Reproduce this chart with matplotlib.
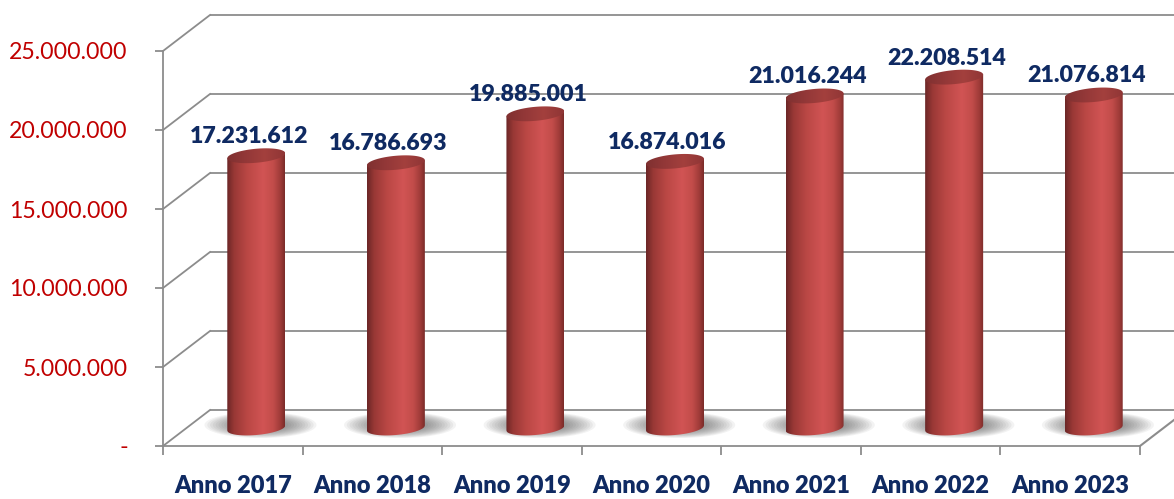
import numpy as np
import matplotlib
matplotlib.use("Agg")
import matplotlib.pyplot as plt
from matplotlib.patches import Polygon
from matplotlib.transforms import offset_copy, IdentityTransform

# ---- data ----
categories = ["Anno 2017", "Anno 2018", "Anno 2019", "Anno 2020",
              "Anno 2021", "Anno 2022", "Anno 2023"]
values = [17231612, 16786693, 19885001, 16874016, 21016244, 22208514, 21076814]
y_ticks = [0, 5000000, 10000000, 15000000, 20000000, 25000000]
y_tick_labels = ["-", "5.000.000", "10.000.000", "15.000.000", "20.000.000", "25.000.000"]

plt.rcParams["font.family"] = ["Lato", "DejaVu Sans"]

W, H = 1174, 499
fig = plt.figure(figsize=(W / 100, H / 100), dpi=100)
ax = fig.add_axes([163 / W, 53 / H, 977 / W, 395 / H])
XLIM = (0, len(categories))
YLIM = (0, 25000000)
ax.set_xlim(*XLIM)
ax.set_ylim(*YLIM)
ax.set_autoscale_on(False)

GRID = "#8c8c8c"
NAVY = "#0f2a62"
RED = "#c00000"

# depth offsets (pixels)
DX, DY = 47, 36
back = offset_copy(ax.transData, fig=fig, x=DX, y=DY, units="dots")
mid = offset_copy(ax.transData, fig=fig, x=DX / 2, y=DY / 2, units="dots")

px_x = 977 / len(categories)          # pixels per category
px_y = 395 / 25000000                 # pixels per unit value

# ---- walls / gridlines ----
for v in y_ticks:
    ax.plot([0, len(categories)], [v, v], transform=back, color=GRID, lw=1.3,
            clip_on=False, zorder=1, solid_capstyle="butt")
    pf = ax.transData.transform((0, v))
    pb = back.transform((0, v))
    ax.plot([pf[0], pb[0]], [pf[1], pb[1]], transform=IdentityTransform(),
            color=GRID, lw=1.3, clip_on=False, zorder=1)
pf = ax.transData.transform((len(categories), 0))
pb = back.transform((len(categories), 0))
ax.plot([pf[0], pb[0]], [pf[1], pb[1]], transform=IdentityTransform(),
        color=GRID, lw=1.5, clip_on=False, zorder=1)

# ---- cylinders ----
r = 29 / px_x            # half width in data units
ry = 7 / px_y            # half height of ellipse in data units
tilt = 2.5 / px_y        # slight tilt of ellipses

def make_grad(stops, rr, gg, bb, n=256):
    u = np.linspace(-1, 1, n)
    img = np.stack([np.interp(u, stops, rr), np.interp(u, stops, gg),
                    np.interp(u, stops, bb)], axis=-1)
    return img[np.newaxis, :, :]

body_img = make_grad([-1.0, -0.75, -0.3, 0.25, 0.6, 0.85, 1.0],
                     [0.42, 0.60, 0.73, 0.82, 0.76, 0.62, 0.48],
                     [0.15, 0.22, 0.28, 0.33, 0.30, 0.23, 0.17],
                     [0.15, 0.21, 0.27, 0.33, 0.29, 0.22, 0.16])
top_img = make_grad([-1.0, -0.3, 0.3, 1.0],
                    [0.50, 0.58, 0.64, 0.56],
                    [0.19, 0.22, 0.25, 0.21],
                    [0.19, 0.22, 0.24, 0.21])

t = np.linspace(0, 2 * np.pi, 160)
for i, v in enumerate(values):
    c = i + 0.5
    # shadow on floor
    for s in np.linspace(1.0, 0.45, 12):
        sx = c + 0.03 + s * (56 / px_x) * np.cos(t)
        sy = 3 / px_y + s * (13 / px_y) * np.sin(t)
        ax.add_patch(Polygon(np.column_stack([sx, sy]), closed=True,
                             facecolor=(0.3, 0.3, 0.3), edgecolor="none",
                             alpha=0.065, transform=mid, zorder=2, clip_on=False))
    # body outline: bottom half-ellipse + straight sides up to top centre line
    u = np.linspace(-1, 1, 120)
    bx = c + u * r
    by = -ry * np.sqrt(np.clip(1 - u ** 2, 0, None)) + tilt * u
    outline = np.vstack([np.column_stack([bx, by]),
                         [[c + r, v + tilt], [c - r, v - tilt]]])
    body_clip = Polygon(outline, closed=True, transform=mid, facecolor="none",
                        edgecolor="none")
    ax.add_patch(body_clip)
    im = ax.imshow(body_img, extent=(c - r, c + r, -ry - tilt, v + tilt),
                   aspect="auto", interpolation="bilinear", transform=mid,
                   zorder=3, origin="lower")
    im.set_clip_path(body_clip)
    # top ellipse
    ex = c + r * np.cos(t)
    ey = v + ry * np.sin(t) + tilt * np.cos(t)
    top_clip = Polygon(np.column_stack([ex, ey]), closed=True, transform=mid,
                       facecolor="none", edgecolor="none")
    ax.add_patch(top_clip)
    im2 = ax.imshow(top_img, extent=(c - r, c + r, v - ry - tilt, v + ry + tilt),
                    aspect="auto", interpolation="bilinear", transform=mid,
                    zorder=4, origin="lower")
    im2.set_clip_path(top_clip)
    # value label
    ax.annotate(f"{v:,}".replace(",", "."), xy=(c, v), xytext=(16, 37),
                textcoords="offset pixels", ha="center", va="center",
                fontsize=16.7, fontweight="heavy", color=NAVY, zorder=6,
                annotation_clip=False)

# ---- axes ----
for side in ["top", "right"]:
    ax.spines[side].set_visible(False)
for side in ["left", "bottom"]:
    ax.spines[side].set_color(GRID)
    ax.spines[side].set_linewidth(1.3)
    ax.spines[side].set_zorder(5)

ax.set_yticks(y_ticks)
ax.set_yticklabels(y_tick_labels)
ax.tick_params(axis="y", length=5.8, width=1.3, color=GRID, pad=19.5,
               labelcolor=RED, labelsize=16.7)

ax.set_xticks(range(len(categories) + 1))
ax.set_xticklabels([])
ax.set_xticks([i + 0.5 for i in range(len(categories))], minor=True)
ax.set_xticklabels(categories, minor=True, fontweight="heavy", color=NAVY, fontsize=17)
ax.tick_params(axis="x", which="major", length=6.5, width=1.3, color=GRID)
ax.tick_params(axis="x", which="minor", length=0, pad=21)
ax.patch.set_visible(False)

ax.set_xlim(*XLIM)
ax.set_ylim(*YLIM)

fig.savefig("out.png", dpi=100)
